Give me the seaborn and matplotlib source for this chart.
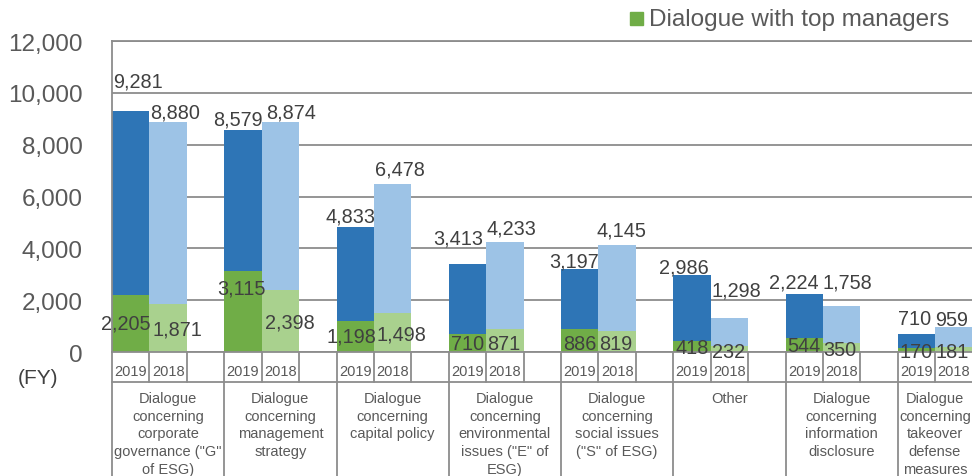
import pandas as pd
import seaborn as sns
import matplotlib.pyplot as plt
from matplotlib.patches import Rectangle
from matplotlib.ticker import FuncFormatter
from matplotlib.transforms import blended_transform_factory

# Dados
categories = [
    'Dialogue\nconcerning\ncorporate\ngovernance ("G"\nof ESG)',
    'Dialogue\nconcerning\nmanagement\nstrategy',
    'Dialogue\nconcerning\ncapital policy',
    'Dialogue\nconcerning\nenvironmental\nissues ("E" of\nESG)',
    'Dialogue\nconcerning\nsocial issues\n("S" of ESG)',
    'Other',
    'Dialogue\nconcerning\ninformation\ndisclosure',
    'Dialogue\nconcerning\ntakeover\ndefense\nmeasures',
]
years = ['2019', '2018']
total_2019 = [9281, 8579, 4833, 3413, 3197, 2986, 2224, 710]
total_2018 = [8880, 8874, 6478, 4233, 4145, 1298, 1758, 959]
top_2019 = [2205, 3115, 1198, 710, 886, 418, 544, 170]
top_2018 = [1871, 2398, 1498, 871, 819, 232, 350, 181]
yticks = [0, 2000, 4000, 6000, 8000, 10000, 12000]

# deslocamentos dos rótulos (pixels), ajustados à mão como no original
tot19_off = [(7, 30), (-5, 11), (-5, 11), (-9, 26), (-6, 8), (-8, 8), (-10, 12), (-2, 15)]
tot18_off = [(7, 10), (11, 10), (7, 15), (7, 14), (4, 15), (7, 28), (6, 24), (-2, 8)]
top19_off = [(-5, 29), (-2, 64), (-4, 16), (0, 9), (0, 8), (0, 4), (0, 6), (0, 0)]
top18_off = [(9, 23), (9, 30), (9, 18), (-1, 9), (-1, 8), (-1, 1), (-2, 3), (-2, 1)]

BLUE_D, BLUE_L = '#2E75B6', '#9DC3E6'
GREEN_D, GREEN_L = '#70AD47', '#A9D18E'
LINE = '#8c8c8c'
TXT = '#595959'
LBL = '#404040'

rows = []
for i in range(len(categories)):
    rows.append({'slot': 3 * i, 'year': '2019', 'total': total_2019[i], 'top': top_2019[i]})
    rows.append({'slot': 3 * i + 1, 'year': '2018', 'total': total_2018[i], 'top': top_2018[i]})
df = pd.DataFrame(rows)

sns.set_style('white')
plt.rcParams['font.family'] = ['Liberation Sans', 'DejaVu Sans']

W, H = 972, 477
fig = plt.figure(figsize=(W / 100, H / 100), dpi=100)
ax = fig.add_axes([112 / W, (H - 353) / H, 898 / W, 311 / H])

order = list(range(3 * len(categories)))
sns.barplot(data=df, x='slot', y='total', hue='year', order=order, hue_order=years,
            palette=[BLUE_D, BLUE_L], saturation=1, dodge=False, width=1, linewidth=0,
            legend=False, ax=ax)
sns.barplot(data=df, x='slot', y='top', hue='year', order=order, hue_order=years,
            palette=[GREEN_D, GREEN_L], saturation=1, dodge=False, width=1, linewidth=0,
            legend=False, ax=ax)

xmax = 3 * len(categories) - 0.5
ax.set_xlim(-0.5, xmax)
ax.set_ylim(0, 12000)
ax.set_xticks([])
ax.set_yticks(yticks)
ax.yaxis.set_major_formatter(FuncFormatter(lambda v, _: f'{v:,.0f}'))
ax.set_xlabel('')
ax.set_ylabel('')
ax.tick_params(axis='y', length=0, pad=21, labelsize=17.5, labelcolor=TXT)
ax.yaxis.grid(True, color=LINE, lw=1.3)
ax.set_axisbelow(True)
for s in ['left', 'top', 'bottom']:
    ax.spines[s].set_color(LINE)
    ax.spines[s].set_linewidth(1.3)
ax.spines['right'].set_visible(False)

# rótulos de valores
for i in range(len(categories)):
    for slot, val, off in [(3 * i, total_2019[i], tot19_off[i]), (3 * i + 1, total_2018[i], tot18_off[i])]:
        ax.annotate(f'{val:,}', xy=(slot, val), xytext=off, textcoords='offset pixels',
                    ha='center', va='center', fontsize=14.3, color=LBL, annotation_clip=False)
    for slot, val, off in [(3 * i, top_2019[i], top19_off[i]), (3 * i + 1, top_2018[i], top18_off[i])]:
        ax.annotate(f'{val:,}', xy=(slot, 0), xytext=off, textcoords='offset pixels',
                    ha='center', va='center', fontsize=14.3, color=LBL, annotation_clip=False)

# borda direita da figura em unidades de dados (o gráfico original é cortado ali)
fig_right = -0.5 + (W - 112) / (898 / (xmax + 0.5))

# eixo de categorias em duas linhas
trans = blended_transform_factory(ax.transData, ax.transAxes)
row1 = -(382.7 - 353) / 311
bottom = -0.5
for i in range(len(categories) + 1):
    x0 = 3 * i - 0.5
    ax.plot([x0, x0], [0, bottom], transform=trans, clip_on=False, color=LINE, lw=1.3)
    if i < len(categories):
        for xb in [x0 + 1, x0 + 2]:
            ax.plot([xb, xb], [0, row1], transform=trans, clip_on=False, color=LINE, lw=1.3)
        for k, yr in enumerate(years):
            ax.text(3 * i + k, -(372 - 353) / 311, yr, transform=trans, ha='center', va='center',
                    fontsize=10.5, color=TXT)
        xc = 3 * i + 1
        if x0 + 3 > fig_right:
            xc = (x0 + fig_right) / 2
        ax.text(xc, -0.124, categories[i], transform=trans, ha='center', va='top',
                fontsize=10.5, color=TXT, linespacing=1.36)
ax.plot([-0.5, xmax], [row1, row1], transform=trans, clip_on=False, color=LINE, lw=1.3)

# legenda (só a entrada visível)
fig.patches.append(Rectangle((630 / W, 1 - 26 / H), 13 / W, 13 / H, transform=fig.transFigure,
                             color=GREEN_D))
fig.text(649 / W, 1 - 20 / H, 'Dialogue with top managers', ha='left', va='center',
         fontsize=17.5, color=TXT)
fig.text(18 / W, 1 - 378 / H, '(FY)', ha='left', va='center', fontsize=15, color=LBL)

plt.savefig('out.png', dpi=100)
plt.close()
